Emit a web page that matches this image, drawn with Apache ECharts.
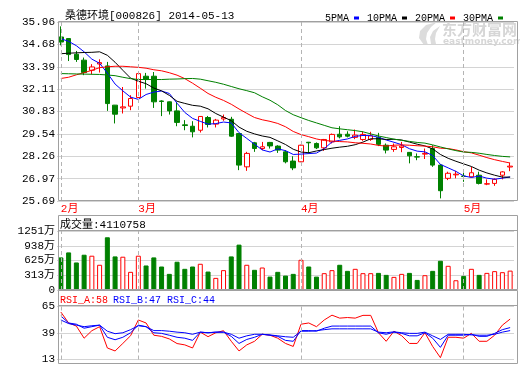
<!DOCTYPE html>
<html><head><meta charset="utf-8">
<script src="https://cdn.jsdelivr.net/npm/echarts@6/dist/echarts.min.js"></script>
<style>html,body{margin:0;padding:0;background:#fff}#c{width:520px;height:365px}</style>
</head><body><div id="c"></div>
<script>
const title = '桑德环境[000826] 2014-05-13';
const volumeHeader = '成交量:4110758';
const rsiHeaders = ['RSI_A:58', 'RSI_B:47', 'RSI_C:44'];
const dates = ['2014-02-17','2014-02-18','2014-02-19','2014-02-20','2014-02-21','2014-02-24','2014-02-25','2014-02-26','2014-02-27','2014-02-28',
'2014-03-03','2014-03-04','2014-03-05','2014-03-06','2014-03-07','2014-03-10','2014-03-11','2014-03-12','2014-03-13','2014-03-14',
'2014-03-17','2014-03-18','2014-03-19','2014-03-20','2014-03-21','2014-03-24','2014-03-25','2014-03-26','2014-03-27','2014-03-28','2014-03-31',
'2014-04-01','2014-04-02','2014-04-03','2014-04-04','2014-04-08','2014-04-09','2014-04-10','2014-04-11','2014-04-14','2014-04-15',
'2014-04-16','2014-04-17','2014-04-18','2014-04-21','2014-04-22','2014-04-23','2014-04-24','2014-04-25','2014-04-28','2014-04-29','2014-04-30',
'2014-05-05','2014-05-06','2014-05-07','2014-05-08','2014-05-09','2014-05-12','2014-05-13'];
const opens = [35.10,35.01,34.11,33.77,33.19,33.55,33.44,31.19,31.03,31.13,31.63,32.85,32.85,31.43,31.38,30.86,30.06,29.98,29.75,30.48,
30.10,30.40,30.38,29.56,27.65,29.03,28.70,29.05,28.84,28.51,27.98,27.94,29.06,28.99,28.74,29.08,29.52,29.52,29.34,29.22,
29.22,29.34,28.89,28.65,28.76,28.48,28.23,28.38,28.70,27.75,26.99,27.19,27.12,27.08,27.17,26.66,26.70,27.17,27.64];
const closes = [34.81,34.09,33.81,33.06,33.38,33.63,31.28,30.67,31.09,31.57,33.00,32.66,31.38,31.40,30.86,30.20,30.02,29.66,30.54,30.08,
30.33,30.48,29.41,27.75,28.42,28.70,28.80,28.85,28.61,27.94,27.59,28.89,29.03,28.74,29.22,29.51,29.37,29.41,29.47,29.51,
29.43,28.94,28.61,28.80,28.84,28.28,28.21,28.42,27.75,26.28,27.28,27.23,27.10,27.31,26.70,26.68,26.93,27.36,27.69];
const lows = [34.62,33.72,33.67,32.91,32.95,33.06,30.86,30.14,30.71,30.90,31.60,32.14,31.03,30.56,30.65,29.98,29.75,29.34,29.62,29.91,
29.91,30.29,29.37,27.46,27.42,28.51,28.61,28.70,28.45,27.85,27.46,27.92,28.42,28.67,28.57,28.99,29.28,29.34,29.24,29.14,
29.14,28.84,28.42,28.51,28.49,27.85,28.03,28.10,27.65,25.84,26.89,26.99,26.79,27.04,26.64,26.60,26.56,26.93,27.40];
const highs = [35.71,35.01,34.30,33.92,33.54,33.82,33.67,31.20,32.23,31.76,33.05,33.04,33.09,31.47,31.40,31.38,30.33,30.27,30.56,30.57,
30.40,30.65,30.52,29.56,28.51,29.08,29.08,29.08,28.89,28.61,28.26,28.92,29.08,29.05,29.25,29.56,29.98,29.69,29.79,29.69,
29.66,29.60,28.99,28.99,29.08,28.50,28.42,28.70,28.89,27.81,27.37,27.42,27.37,27.65,27.37,26.93,26.99,27.40,27.88];
const ma5 = [35.00,34.85,34.60,34.25,33.83,33.59,33.03,32.40,32.01,31.65,31.52,31.80,31.94,32.00,31.86,31.30,30.77,30.43,30.26,30.10,
30.13,30.22,30.17,29.61,29.28,28.95,28.62,28.50,28.68,28.58,28.36,28.38,28.41,28.44,28.69,29.08,29.17,29.25,29.40,29.45,
29.44,29.35,29.19,29.06,28.92,28.69,28.55,28.51,28.30,27.79,27.59,27.39,27.13,27.04,27.12,27.00,26.94,27.00,27.07];
const ma10 = [34.14,34.17,34.19,34.21,34.22,34.25,34.05,33.65,33.19,32.74,32.56,32.42,32.17,32.01,31.75,31.41,31.29,31.18,31.13,30.98,
30.71,30.50,30.30,29.93,29.69,29.54,29.42,29.34,29.14,28.93,28.66,28.50,28.46,28.56,28.64,28.72,28.78,28.83,28.92,29.07,
29.26,29.26,29.22,29.23,29.19,29.07,28.95,28.85,28.68,28.36,28.14,27.97,27.82,27.67,27.46,27.30,27.17,27.06,27.06];
const ma20 = [32.72,32.79,32.93,33.05,33.19,33.34,33.39,33.42,33.42,33.39,33.36,33.31,33.22,33.16,33.05,32.91,32.71,32.45,32.16,31.86,
31.64,31.46,31.24,30.97,30.72,30.48,30.35,30.26,30.14,29.95,29.68,29.50,29.38,29.25,29.16,29.13,29.10,29.08,29.03,29.00,
28.96,28.88,28.84,28.89,28.91,28.89,28.86,28.84,28.80,28.72,28.70,28.62,28.52,28.45,28.32,28.18,28.06,27.96,27.87];
const ma30 = [33.00,32.99,32.98,32.97,32.96,32.95,32.92,32.88,32.79,32.71,32.66,32.66,32.66,32.66,32.68,32.69,32.71,32.72,32.68,32.59,
32.50,32.39,32.26,32.13,32.02,31.90,31.67,31.47,31.21,30.88,30.64,30.47,30.31,30.17,30.03,29.89,29.83,29.78,29.73,29.66,
29.54,29.42,29.33,29.24,29.17,29.11,29.05,29.01,28.91,28.79,28.68,28.58,28.50,28.48,28.43,28.36,28.30,28.25,28.22];
const volumes = [691,797,584,748,727,535,1118,712,706,385,727,520,691,498,342,599,449,498,556,391,
257,421,712,962,535,428,477,284,385,306,342,641,498,284,357,421,535,406,449,357,
357,363,321,278,342,363,214,314,406,620,513,207,299,449,321,363,400,378,411.0758];
const rsiA = [59.1,48.5,45.5,33.7,41.0,44.9,24.2,21.3,28.6,36.1,51.4,48.5,36.6,35.5,33.0,28.5,27.2,24.2,39.6,35.2,
39.0,41.0,30.7,21.3,27.2,30.7,37.5,36.6,33.7,28.6,25.7,47.3,48.5,44.9,51.4,56.1,53.2,53.8,53.2,55.9,
55.9,39.0,30.7,40.5,36.1,28.6,28.6,39.0,25.7,14.8,34.6,34.6,33.7,38.4,30.7,30.7,36.6,46.4,52.3];
const rsiB = [55.3,48.5,47.3,43.4,44.9,46.4,34.6,32.2,34.6,39.0,46.4,44.9,39.0,38.4,36.6,34.6,33.7,31.6,39.6,39.0,
39.6,39.6,35.5,28.6,32.5,34.6,37.5,36.6,35.5,31.6,30.7,41.1,41.1,40.5,43.4,45.5,45.5,45.5,45.5,45.5,
45.5,39.0,37.5,39.6,38.4,36.0,36.0,39.0,33.7,24.8,36.6,36.6,36.6,37.5,35.5,35.5,38.4,42.0,44.0];
const rsiC = [51.4,47.9,46.4,44.9,45.8,46.4,40.5,38.1,39.0,42.0,45.8,44.9,41.1,41.1,40.5,39.6,39.0,37.5,39.6,39.0,
39.6,39.6,37.5,33.7,36.0,37.5,37.5,36.9,36.0,35.1,34.6,40.5,40.5,41.1,42.0,42.8,42.8,42.8,42.8,42.8,
42.8,39.6,39.0,39.9,39.0,38.4,38.4,39.6,36.0,32.5,37.5,37.5,37.5,36.9,36.6,36.6,37.5,39.6,41.1];
const priceTicks = ['25.69','26.97','28.26','29.54','30.83','32.11','33.39','34.68','35.96'];
const volTicks = ['0','313万','625万','938万','1251万'];
const rsiTicks = ['13','39','65'];
const maNames = ['5PMA','10PMA','20PMA','30PMA'];

const chart = echarts.init(document.getElementById('c'), null, {renderer:'canvas', width:520, height:365});
const mono = '"Liberation Mono","Noto Sans CJK SC",monospace';
const GL = 57, GR = 6;
const pMin = parseFloat(priceTicks[0]), pMax = parseFloat(priceTicks[priceTicks.length-1]);
const pInt = (pMax - pMin) / (priceTicks.length - 1);
const vMax = parseFloat(volTicks[volTicks.length-1]);
const vInt = vMax / (volTicks.length - 1);
const rMin = parseFloat(rsiTicks[0]), rMax = parseFloat(rsiTicks[rsiTicks.length-1]);
const rInt = (rMax - rMin) / (rsiTicks.length - 1);

const monthStarts = dates.map((d,i)=> (i===0 || d.slice(5,7)!==dates[i-1].slice(5,7)) ? i : -1).filter(i=>i>=0);
const monthLabel = i => parseInt(dates[i].slice(5,7),10) + '月';
const candles = dates.map((d,i)=>[opens[i], closes[i], lows[i], highs[i]]);
const isUp = i => closes[i] >= opens[i];
const volData = volumes.map((v,i)=>({value:v, itemStyle: isUp(i) ? {color:'#ffffff', borderColor:'#ff0000', borderWidth:1} : {color:'#008000', borderColor:'#008000', borderWidth:1}}));
const mkLine = () => ({silent:true, symbol:['none','none'], animation:false, label:{show:false},
  lineStyle:{color:'#b4b4b4', type:[4,3], width:1}, emphasis:{disabled:true},
  data: monthStarts.map(i=>({xAxis: dates[i]}))});
const gridLine = {lineStyle:{color:'#d4d4d4', width:1}};
const lblBase = {color:'#000', fontFamily:mono, fontSize:11, margin:2};
const frame = '#a0a0a0';

const xBase = (gi, showLabel) => ({type:'category', gridIndex:gi, data:dates, boundaryGap:true,
  axisLine:{show:false}, axisTick:{show:false}, splitLine:{show:false},
  axisLabel: showLabel ? {interval:(i)=>monthStarts.includes(i), formatter:(v,i)=>monthLabel(i), color:'#ff0000', fontFamily:mono, fontSize:11, margin:3, align:'left'} : {show:false}});

const option = {
  animation:false,
  backgroundColor:'#fff',
  title:{text:title, left:60, top:6, textStyle:{fontSize:11, fontWeight:'normal', fontFamily:mono, color:'#000'}},
  legend:{data:maNames, right:12, top:8, align:'right', icon:'rect', itemWidth:5, itemHeight:3, itemGap:8, selectedMode:false,
    textStyle:{fontFamily:mono, fontSize:10, color:'#000'}},
  grid:[
    {left:GL, right:GR, top:22, height:179},
    {left:GL, right:GR, top:231, height:59},
    {left:GL, right:GR, top:306, height:58}
  ],
  xAxis:[xBase(0,true), xBase(1,false), xBase(2,false)],
  yAxis:[
    {type:'value', gridIndex:0, min:pMin, max:pMax, interval:pInt, axisLine:{show:false}, axisTick:{show:false}, splitLine:gridLine,
      axisLabel:Object.assign({}, lblBase, {formatter:v=>priceTicks[Math.round((v-pMin)/pInt)]})},
    {type:'value', gridIndex:1, min:0, max:vMax, interval:vInt, axisLine:{show:false}, axisTick:{show:false}, splitLine:gridLine,
      axisLabel:Object.assign({}, lblBase, {formatter:v=>volTicks[Math.round(v/vInt)]})},
    {type:'value', gridIndex:2, min:rMin, max:rMax, interval:rInt, axisLine:{show:false}, axisTick:{show:false}, splitLine:gridLine,
      axisLabel:Object.assign({}, lblBase, {formatter:v=>rsiTicks[Math.round((v-rMin)/rInt)]})}
  ],
  series:[
    {type:'candlestick', name:'K', xAxisIndex:0, yAxisIndex:0, data:candles, barWidth:5,
      itemStyle:{color:'#ffffff', color0:'#008000', borderColor:'#ff0000', borderColor0:'#008000', borderWidth:1},
      markLine:mkLine()},
    {type:'line', name:maNames[0], xAxisIndex:0, yAxisIndex:0, data:ma5, symbol:'none', color:'#0000ff', lineStyle:{width:1, color:'#0000ff'}},
    {type:'line', name:maNames[1], xAxisIndex:0, yAxisIndex:0, data:ma10, symbol:'none', color:'#000000', lineStyle:{width:1, color:'#000000'}},
    {type:'line', name:maNames[2], xAxisIndex:0, yAxisIndex:0, data:ma20, symbol:'none', color:'#ff0000', lineStyle:{width:1, color:'#ff0000'}},
    {type:'line', name:maNames[3], xAxisIndex:0, yAxisIndex:0, data:ma30, symbol:'none', color:'#008000', lineStyle:{width:1, color:'#008000'}},
    {type:'bar', name:'VOL', xAxisIndex:1, yAxisIndex:1, data:volData, barWidth:5, markLine:mkLine()},
    {type:'line', name:'RSI_A', xAxisIndex:2, yAxisIndex:2, data:rsiA, symbol:'none', lineStyle:{width:1, color:'#ff0000'}, markLine:mkLine()},
    {type:'line', name:'RSI_B', xAxisIndex:2, yAxisIndex:2, data:rsiB, symbol:'none', lineStyle:{width:1, color:'#0000ff'}},
    {type:'line', name:'RSI_C', xAxisIndex:2, yAxisIndex:2, data:rsiC, symbol:'none', lineStyle:{width:1, color:'#0000ff'}}
  ],
  graphic:[
    {type:'rect', silent:true, z:10, shape:{x:58.5, y:21.5, width:459, height:179}, style:{fill:'none', stroke:frame, lineWidth:1}},
    {type:'rect', silent:true, z:10, shape:{x:58.5, y:215.5, width:459, height:74}, style:{fill:'none', stroke:frame, lineWidth:1}},
    {type:'line', silent:true, z:10, shape:{x1:58.5, y1:230.5, x2:517.5, y2:230.5}, style:{stroke:frame, lineWidth:1}},
    {type:'text', silent:true, x:60, y:225, style:{text:volumeHeader, fill:'#000', font:'11px '+mono, textVerticalAlign:'middle', verticalAlign:'middle'}},
    {type:'rect', silent:true, z:10, shape:{x:58.5, y:290.5, width:459, height:73}, style:{fill:'none', stroke:frame, lineWidth:1}},
    {type:'line', silent:true, z:10, shape:{x1:58.5, y1:305.5, x2:517.5, y2:305.5}, style:{stroke:frame, lineWidth:1}},
    {type:'text', silent:true, x:60, y:300, style:{text:rsiHeaders[0], fill:'#ff0000', font:'10px '+mono, textVerticalAlign:'middle', verticalAlign:'middle'}},
    {type:'text', silent:true, x:113, y:300, style:{text:rsiHeaders[1], fill:'#0000ff', font:'10px '+mono, textVerticalAlign:'middle', verticalAlign:'middle'}},
    {type:'text', silent:true, x:167, y:300, style:{text:rsiHeaders[2], fill:'#0000ff', font:'10px '+mono, textVerticalAlign:'middle', verticalAlign:'middle'}},
    {type:'polygon', silent:true, z:-1, shape:{points:[[424,45],[419,38],[420,31],[426,25],[437,22],[431,27],[427,33],[426,39],[428,45]]}, style:{fill:'#dcdcdc'}},
    {type:'polygon', silent:true, z:-1, shape:{points:[[431,44],[430,37],[433,31],[440,26],[436,33],[435,39],[436,44]]}, style:{fill:'#dcdcdc'}},
    {type:'text', silent:true, z:-1, x:442, y:29, style:{text:'东方财富网', fill:'#d6d6d6', font:'bold 15px "Noto Sans CJK SC"', textVerticalAlign:'middle', verticalAlign:'middle'}},
    {type:'text', silent:true, z:-1, x:443, y:42, style:{text:'eastmoney.com', fill:'#d6d6d6', font:'bold 9px "DejaVu Sans"', textVerticalAlign:'middle', verticalAlign:'middle'}}
  ]
};
chart.setOption(option);
</script></body></html>
